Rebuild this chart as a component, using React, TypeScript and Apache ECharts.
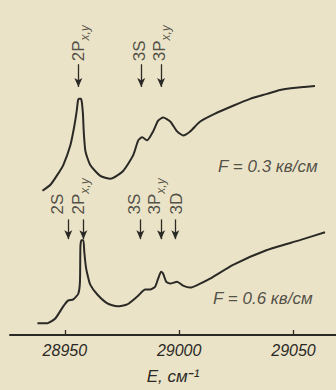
import React, { useEffect, useRef } from "react";
import * as echarts from "echarts";

// Upper spectrum, F = 0.3 kV/cm (energy in cm^-1, intensity in arbitrary units)
const topE = [28940.2, 28943.7, 28946.7, 28949.3, 28952.4, 28954.1, 28955.2, 28955.7, 28956.1, 28957.0, 28957.4, 28957.9, 28958.3, 28959.0, 28961.1, 28965.5, 28969.9, 28975.5, 28979.9, 28982.1, 28983.8, 28986.0, 28988.6, 28990.8, 28993.0, 28996.1, 28999.1, 29001.7, 29004.8, 29009.2, 29015.7, 29023.6, 29031.0, 29038.4, 29044.1, 29049.8, 29059.4];
const topI = [146, 152, 162, 172, 192, 211, 227, 237, 239, 239, 236, 224, 204, 186, 172, 161, 158, 166, 182, 197, 200, 197, 206, 217, 220, 216, 206, 202, 206, 216, 224, 232, 239, 244, 248, 250, 252];

// Lower spectrum, F = 0.6 kV/cm
const botE = [28938.0, 28942.4, 28945.9, 28949.3, 28951.5, 28953.7, 28955.9, 28956.6, 28956.8, 28957.2, 28958.1, 28958.5, 28959.2, 28959.8, 28961.1, 28964.2, 28968.6, 28972.9, 28977.3, 28981.7, 28985.2, 28987.3, 28989.5, 28990.8, 28992.1, 28993.0, 28994.3, 28996.1, 28999.1, 29001.7, 29004.8, 29009.2, 29013.5, 29023.6, 29038.4, 29052.8, 29063.8];
const botI = [12, 12, 17, 29, 35, 36, 42, 54, 89, 96, 96, 84, 69, 62, 51, 41, 32, 29, 31, 39, 46, 46, 49, 57, 64, 62, 54, 52, 54, 50, 48, 52, 57, 71, 86, 96, 104];

// Line markers (arrows) and their labels
const topArrowE = [28955.9, 28983.4, 28992.1];
const topLabels = ["{m|2P}{s|x,y}", "{m|3S}", "{m|3P}{s|x,y}"];
const topLabelE = [28956.8, 28983.4, 28992.1];
const botArrowE = [28951.5, 28958.1, 28983.0, 28992.1, 28998.3];
const botLabels = ["{m|2S}", "{m|2P}{s|x,y}", "{m|3S}", "{m|3P}{s|x,y}", "{m|3D}"];
const botLabelE = [28947.6, 28956.8, 28981.3, 28990.3, 28999.6];

const tickValues = [28950, 29000, 29050];
const fieldLabels = ["F = 0.3 кв/см", "F = 0.6 кв/см"];

const FONT = "'Liberation Sans', 'Roboto', sans-serif";
const INK = "#2a2926";
const PAPER = "#ebe3c7";

const zip = (a: number[], b: number[]) => a.map((v, i) => [v, b[i]]);

export default function App() {
  const ref = useRef<HTMLDivElement>(null);
  useEffect(() => {
    if (!ref.current) return;
    const chart = echarts.init(ref.current, null, { renderer: "svg" });

    const arrowLines = (xs: number[], y1: number, y2: number) =>
      xs.map((x) => [
        { coord: [x, y1], symbol: "none" },
        { coord: [x, y2], symbol: "arrow", symbolSize: [6, 9] },
      ]);

    const rich = {
      m: { fontSize: 17, fontFamily: FONT, color: INK, verticalAlign: "bottom", padding: [0, 0, 4, 0] },
      s: { fontSize: 12, fontFamily: FONT, fontStyle: "italic", color: INK, verticalAlign: "bottom" },
    };

    const labelSeries = (xs: number[], texts: string[], y: number) => ({
      type: "scatter",
      symbolSize: 0,
      silent: true,
      z: 5,
      data: xs.map((x, i) => ({ value: [x, y], label: { formatter: texts[i] } })),
      label: {
        show: true,
        position: "inside",
        rotate: 90,
        align: "left",
        verticalAlign: "middle",
        rich,
      },
    });

    const markLineStyle = {
      silent: true,
      symbol: ["none", "arrow"],
      symbolSize: 9,
      label: { show: false },
      lineStyle: { color: INK, width: 1.3, type: "solid", opacity: 1 },
      itemStyle: { color: INK },
      emphasis: { disabled: true },
    };

    chart.setOption({
      animation: false,
      backgroundColor: PAPER,
      grid: { left: 10, right: 0, top: 0, bottom: 51 },
      xAxis: {
        type: "value",
        min: 28926,
        max: 29068.6,
        splitLine: { show: false },
        axisLine: { lineStyle: { color: INK, width: 2 } },
        axisTick: { inside: true, length: 5, customValues: tickValues, lineStyle: { color: INK, width: 1.3 } },
        axisLabel: {
          customValues: tickValues,
          formatter: (v: number) => String(v),
          fontFamily: FONT,
          fontStyle: "italic",
          fontSize: 16,
          color: INK,
          margin: 7,
        },
        name: "E, см⁻¹",
        nameLocation: "middle",
        nameGap: 33,
        nameTextStyle: { fontFamily: FONT, fontStyle: "italic", fontSize: 17, color: INK },
      },
      yAxis: { type: "value", min: 0, max: 339, show: false },
      series: [
        {
          type: "line",
          data: zip(topE, topI),
          showSymbol: false,
          smooth: 0.2,
          lineStyle: { color: INK, width: 2 },
          markLine: { ...markLineStyle, data: arrowLines(topArrowE, 274, 251) },
        },
        {
          type: "line",
          data: zip(botE, botI),
          showSymbol: false,
          smooth: 0.2,
          lineStyle: { color: INK, width: 2 },
          markLine: { ...markLineStyle, data: arrowLines(botArrowE, 117, 97) },
        },
        labelSeries(topLabelE, topLabels, 277),
        labelSeries(botLabelE, botLabels, 122),
        {
          type: "scatter",
          symbolSize: 0,
          silent: true,
          data: [
            { value: [29017.0, 171], label: { formatter: fieldLabels[0] } },
            { value: [29014.8, 37], label: { formatter: fieldLabels[1] } },
          ],
          label: {
            show: true,
            position: "inside",
            align: "left",
            verticalAlign: "middle",
            fontFamily: FONT,
            fontStyle: "italic",
            fontSize: 17,
            color: INK,
          },
        },
      ],
    });
    return () => chart.dispose();
  }, []);
  return (
    <div
      ref={ref}
      style={{ position: "fixed", left: 0, top: 0, width: 336, height: 390, background: PAPER }}
    />
  );
}
